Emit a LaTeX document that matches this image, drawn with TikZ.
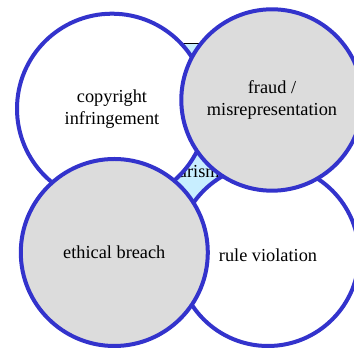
\documentclass[tikz,border=0pt]{standalone}
\usepackage{fontspec}
\setmainfont{Liberation Serif}
\usepackage{xcolor}
\definecolor{ringblue}{RGB}{51,51,204}
\definecolor{coreblue}{RGB}{200,238,255}
\definecolor{topicgrey}{RGB}{220,220,220}
\usetikzlibrary{positioning}

\begin{document}
\begin{tikzpicture}[x=1pt,y=1pt,font=\fontsize{18.3}{22}\selectfont,
 topic/.style={circle,draw=ringblue,line width=4pt,fill=white,align=center,inner sep=0pt},
 greytopic/.style={topic,fill=topicgrey}]
\useasboundingbox (0,0) rectangle (354,350);
\node[draw=black,line width=.8pt,fill=coreblue,minimum width=130pt,minimum height=259.5pt] (plag) at (181,176.7) {plagiarism};
\node[topic,minimum size=190pt] (copy) at (112,241.3) {copyright\\infringement};
\node[topic,minimum size=182pt] (rule) at (268,95) {rule violation};
\node[greytopic,minimum size=181.4pt] (fraud) at (272,250) {fraud /\\misrepresentation};
\node[greytopic,minimum size=187pt] (ethic) at (114.3,97.5) {ethical breach};
\end{tikzpicture}
\end{document}
